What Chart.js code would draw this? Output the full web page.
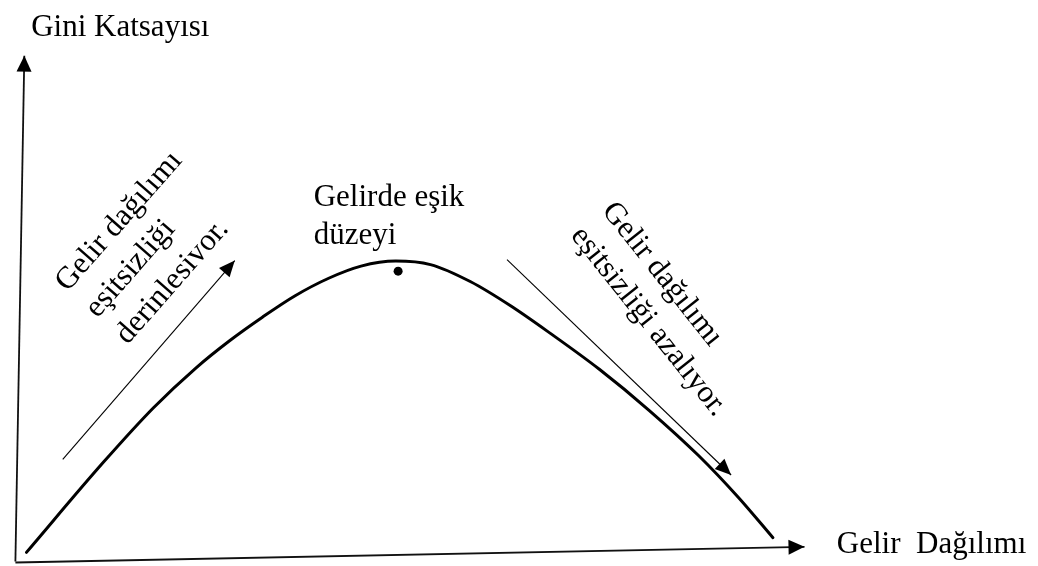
<!DOCTYPE html>
<html>
<head>
<meta charset="utf-8">
<script src="https://cdn.jsdelivr.net/npm/chart.js@4/dist/chart.umd.min.js"></script>
<style>
  html, body { margin: 0; padding: 0; background: #ffffff; }
  #wrap { width: 1038px; height: 566px; position: relative; }
</style>
</head>
<body>
<div id="wrap"><canvas id="c"></canvas></div>
<script>
// ---- Data (abstract units: income distribution on x, Gini coefficient on y) ----
const curveX = [1.4, 11.2, 17.5, 22.9, 27.1, 31.3, 35.4, 39.7, 43.8, 48.2, 52.6, 57.7, 62.7, 67.7, 74.0, 80.3, 86.6, 91.6, 96.0];
const curveY = [1.8, 19.7, 30.4, 38.3, 43.6, 48.3, 52.5, 56.0, 58.4, 59.4, 58.7, 55.3, 50.6, 45.2, 38.0, 29.9, 20.9, 12.7, 4.7];

const yAxisX = [0, 1.13];
const yAxisY = [0, 100];
const xAxisX = [0, 100];
const xAxisY = [-0.2, 2.9];

const riseArrowX = [6.0, 27.8];
const riseArrowY = [20.2, 59.5];
const fallArrowX = [62.3, 90.7];
const fallArrowY = [59.7, 17.1];

const peakX = [48.5];
const peakY = [57.4];

const yTitle = "Gini Katsayısı";
const xTitle = "Gelir  Dağılımı";
const peakLabel = ["Gelirde eşik", "düzeyi"];
const riseLabel = ["Gelir dağılımı", "eşitsizliği", "derinlesivor."];
const fallLabel = ["Gelir dağılımı", "eşitsizliği azalıyor."];

// ---- helpers ----
const pts = (xs, ys) => xs.map((x, i) => ({ x: x, y: ys[i] }));

const FONT = '31px "Liberation Serif", "Times New Roman", serif';

const labels = [
  { lines: [yTitle], x: 2.0, y: 103.9, angle: 0, lh: 38 },
  { lines: [xTitle], x: 104.1, y: 1.75, angle: 0, lh: 38 },
  { lines: peakLabel, x: 37.8, y: 70.2, angle: 0, lh: 38 },
  { lines: riseLabel, x: 6.6, y: 53.2, angle: -48.7, lh: 40 },
  { lines: fallLabel, x: 74.25, y: 69.3, angle: 51.5, lh: 40 }
];

const overlay = {
  id: 'overlay',
  afterDatasetsDraw(chart) {
    const ctx = chart.ctx;
    const xs = chart.scales.x, ys = chart.scales.y;
    chart.data.datasets.forEach((ds, i) => {
      if (!ds.arrow) return;
      const meta = chart.getDatasetMeta(i);
      const n = meta.data.length;
      const p1 = meta.data[n - 2], p2 = meta.data[n - 1];
      const ang = Math.atan2(p2.y - p1.y, p2.x - p1.x);
      const L = ds.arrow.len, W = ds.arrow.half;
      ctx.save();
      ctx.translate(p2.x, p2.y);
      ctx.rotate(ang);
      ctx.beginPath();
      ctx.moveTo(0, 0);
      ctx.lineTo(-L, -W);
      ctx.lineTo(-L, W);
      ctx.closePath();
      ctx.fillStyle = '#000';
      ctx.fill();
      ctx.restore();
    });
    labels.forEach(lb => {
      const px = xs.getPixelForValue(lb.x), py = ys.getPixelForValue(lb.y);
      ctx.save();
      ctx.translate(px, py);
      ctx.rotate(lb.angle * Math.PI / 180);
      ctx.font = FONT;
      ctx.fillStyle = '#000';
      ctx.textAlign = 'left';
      ctx.textBaseline = 'alphabetic';
      lb.lines.forEach((t, k) => ctx.fillText(t, 0, k * lb.lh));
      ctx.restore();
    });
  }
};

new Chart(document.getElementById('c'), {
  type: 'scatter',
  data: {
    datasets: [
      { data: pts(curveX, curveY), showLine: true, borderColor: '#000', borderWidth: 3,
        cubicInterpolationMode: 'monotone', pointRadius: 0, clip: false, borderCapStyle: 'round' },
      { data: pts(yAxisX, yAxisY), showLine: true, borderColor: '#111', borderWidth: 1.8,
        pointRadius: 0, clip: false, arrow: { len: 16, half: 7.5 } },
      { data: pts(xAxisX, xAxisY), showLine: true, borderColor: '#111', borderWidth: 1.8,
        pointRadius: 0, clip: false, arrow: { len: 16, half: 7.5 } },
      { data: pts(riseArrowX, riseArrowY), showLine: true, borderColor: '#000', borderWidth: 1.1,
        pointRadius: 0, clip: false, arrow: { len: 16, half: 7 } },
      { data: pts(fallArrowX, fallArrowY), showLine: true, borderColor: '#000', borderWidth: 1.1,
        pointRadius: 0, clip: false, arrow: { len: 16, half: 7 } },
      { data: pts(peakX, peakY), showLine: false, pointRadius: 4.5, pointBackgroundColor: '#000',
        pointBorderColor: '#000', pointBorderWidth: 0, clip: false }
    ]
  },
  options: {
    responsive: true,
    maintainAspectRatio: false,
    animation: false,
    events: [],
    layout: { padding: 0 },
    plugins: { legend: { display: false }, tooltip: { enabled: false } },
    scales: {
      x: { type: 'linear', display: false, min: -1.382, max: 129.02 },
      y: { type: 'linear', display: false, min: 0, max: 110.12 }
    }
  },
  plugins: [overlay]
});
</script>
</body>
</html>
